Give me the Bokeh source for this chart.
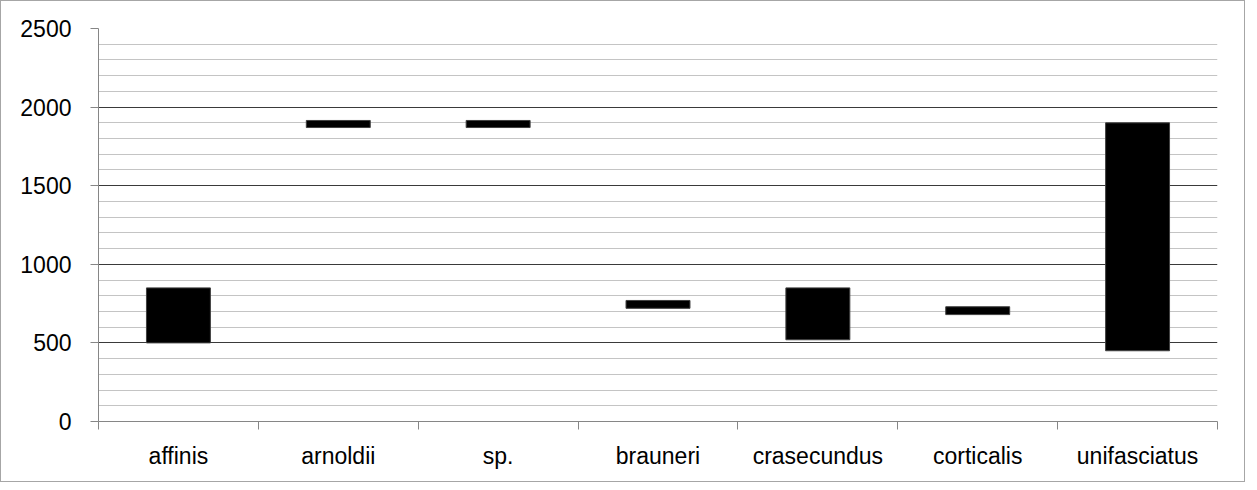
from bokeh.plotting import figure
from bokeh.models import FixedTicker, Range1d, ColumnDataSource
from bokeh.embed import file_html
from bokeh.resources import INLINE

categories = ["affinis", "arnoldii", "sp.", "brauneri", "crasecundus", "corticalis", "unifasciatus"]
low_values = [500, 1870, 1870, 720, 520, 680, 450]
high_values = [850, 1915, 1915, 770, 850, 730, 1900]
y_major_ticks = [0, 500, 1000, 1500, 2000, 2500]
y_minor_ticks = [v for v in range(100, 2500, 100) if v % 500 != 0]

positions = [i + 0.5 for i in range(len(categories))]
boundaries = list(range(len(categories) + 1))

source = ColumnDataSource(dict(x=positions, low=low_values, high=high_values))

FONT = "Liberation Sans"

p = figure(width=1245, height=482, output_backend="svg", toolbar_location=None,
           x_range=Range1d(0, len(categories)), y_range=Range1d(0, 2500),
           min_border_left=97, min_border_right=29, min_border_top=27, min_border_bottom=62)
p.styles = {"border": "1px solid #a6a6a6", "box-sizing": "border-box"}
p.outline_line_color = None
p.background_fill_color = "white"
p.border_fill_color = "white"

p.vbar(x="x", bottom="low", top="high", width=0.4, source=source,
       fill_color="black", line_color="#404040", line_width=1)

# y axis
p.yaxis.ticker = FixedTicker(ticks=y_major_ticks, minor_ticks=y_minor_ticks)
p.yaxis.axis_line_color = "#868686"
p.yaxis.major_tick_line_color = "#868686"
p.yaxis.major_tick_out = 8
p.yaxis.major_tick_in = 0
p.yaxis.minor_tick_line_color = None
p.yaxis.major_label_text_font = FONT
p.yaxis.major_label_text_font_size = "23px"
p.yaxis.major_label_text_color = "black"
p.yaxis.major_label_standoff = 19

# x axis
p.xaxis.ticker = FixedTicker(ticks=positions, minor_ticks=boundaries)
p.xaxis.major_label_overrides = {pos: c for pos, c in zip(positions, categories)}
p.xaxis.axis_line_color = "#868686"
p.xaxis.major_tick_line_color = None
p.xaxis.minor_tick_line_color = "#868686"
p.xaxis.minor_tick_out = 8
p.xaxis.minor_tick_in = 0
p.xaxis.major_label_text_font = FONT
p.xaxis.major_label_text_font_size = "23px"
p.xaxis.major_label_text_color = "black"
p.xaxis.major_label_standoff = 13

# grids
p.xgrid.grid_line_color = None
p.ygrid.grid_line_color = "#3a3a3a"
p.ygrid.grid_line_width = 1
p.ygrid.minor_grid_line_color = "#c4c4c4"
p.ygrid.minor_grid_line_width = 1
p.ygrid.level = "underlay"

open("out.html", "w").write(file_html(p, INLINE))
